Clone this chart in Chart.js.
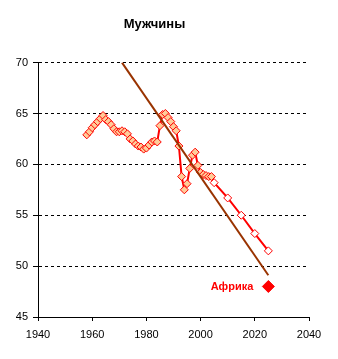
<!DOCTYPE html>
<html lang="ru">
<head>
<meta charset="UTF-8">
<title>Мужчины</title>
<script src="https://cdn.jsdelivr.net/npm/chart.js"></script>
<style>
  body { margin: 0; padding: 0; background: #ffffff; }
  .wrap { width: 338px; height: 359px; }
</style>
</head>
<body>
<div class="wrap"><canvas id="lifeChart" width="338" height="359"></canvas></div>
<script>
// годы и значения (наблюдения)
const years = [1958, 1959, 1960, 1961, 1962, 1963, 1964, 1965, 1966, 1967,
  1968, 1969, 1970, 1971, 1972, 1973, 1974, 1975, 1976, 1977,
  1978, 1979, 1980, 1981, 1982, 1983, 1984, 1985, 1986, 1987,
  1988, 1989, 1990, 1991, 1992, 1993, 1994, 1995, 1996, 1997,
  1998, 1999, 2000, 2001, 2002, 2003, 2004];
const values = [62.9, 63.2, 63.6, 63.9, 64.2, 64.5, 64.8, 64.4, 64.2, 63.9,
  63.5, 63.2, 63.2, 63.3, 63.2, 63.0, 62.5, 62.3, 62.0, 61.8,
  61.7, 61.5, 61.6, 61.9, 62.2, 62.3, 62.2, 63.8, 64.9, 65.0,
  64.6, 64.2, 63.7, 63.3, 61.8, 58.8, 57.5, 58.1, 59.6, 60.9,
  61.2, 59.9, 59.2, 59.0, 58.9, 58.8, 58.8];

// прогноз
const forecastYears = [2005, 2010, 2015, 2020, 2025];
const forecastValues = [58.2, 56.7, 55.0, 53.2, 51.5];

// линейный тренд
const trendYears = [1971, 2025];
const trendValues = [70, 49.1];

// Африка
const africaYear = [2025];
const africaValue = [48];
const africaLabel = 'Африка';

const xTicks = [1940, 1960, 1980, 2000, 2020, 2040];
const yTicks = [45, 50, 55, 60, 65, 70];

const mainPoints = years.map((y, i) => ({ x: y, y: values[i] }))
  .concat(forecastYears.map((y, i) => ({ x: y, y: forecastValues[i] })));
const pointFill = years.map(() => '#FFCC99').concat(forecastYears.map(() => '#FFFFFF'));

const africaText = {
  id: 'africaText',
  afterDatasetsDraw(chart) {
    const meta = chart.getDatasetMeta(2);
    const pt = meta.data[0];
    const ctx = chart.ctx;
    ctx.save();
    ctx.font = 'bold 11px "Liberation Sans", Arial, sans-serif';
    ctx.fillStyle = '#FF0000';
    ctx.textAlign = 'right';
    ctx.textBaseline = 'middle';
    ctx.fillText(africaLabel, pt.x - 15, pt.y);
    ctx.restore();
  }
};

const ctx = document.getElementById('lifeChart').getContext('2d');
new Chart(ctx, {
  type: 'line',
  data: {
    datasets: [
      {
        label: 'тренд',
        data: trendYears.map((y, i) => ({ x: y, y: trendValues[i] })),
        borderColor: '#993300',
        borderWidth: 2,
        pointRadius: 0,
        tension: 0
      },
      {
        label: 'Мужчины',
        data: mainPoints,
        borderColor: '#FF0000',
        borderWidth: 2,
        pointStyle: 'rectRot',
        pointRadius: 4,
        pointBorderWidth: 1,
        pointBorderColor: '#FF0000',
        pointBackgroundColor: pointFill,
        tension: 0
      },
      {
        label: africaLabel,
        data: africaYear.map((y, i) => ({ x: y, y: africaValue[i] })),
        showLine: false,
        pointStyle: 'rectRot',
        pointRadius: 6,
        pointBorderWidth: 1,
        pointBorderColor: '#FF0000',
        pointBackgroundColor: '#FF0000'
      }
    ]
  },
  options: {
    responsive: false,
    animation: false,
    layout: { padding: { left: 0, right: 29, top: 0, bottom: 0 } },
    plugins: {
      legend: { display: false },
      tooltip: { enabled: false },
      title: {
        display: true,
        text: 'Мужчины',
        color: '#000000',
        font: { family: '"Liberation Sans", Arial, sans-serif', size: 13, weight: 'bold' },
        padding: { top: 17, bottom: 30 }
      }
    },
    scales: {
      x: {
        type: 'linear',
        min: 1940,
        max: 2040,
        afterBuildTicks: (scale) => { scale.ticks = xTicks.map(v => ({ value: v })); },
        afterFit: (scale) => { scale.height = 42; },
        ticks: {
          color: '#000000',
          font: { family: '"Liberation Sans", Arial, sans-serif', size: 11 },
          padding: 7,
          maxRotation: 0,
          callback: (v) => String(v)
        },
        grid: { drawOnChartArea: false, drawTicks: true, tickLength: 4, color: '#000000' },
        border: { display: true, color: '#000000', width: 1 }
      },
      y: {
        min: 45,
        max: 70,
        afterBuildTicks: (scale) => { scale.ticks = yTicks.map(v => ({ value: v })); },
        afterFit: (scale) => { scale.width = 38; },
        ticks: {
          color: '#000000',
          font: { family: '"Liberation Sans", Arial, sans-serif', size: 11 },
          padding: 5,
          callback: (v) => String(v)
        },
        grid: {
          color: '#000000',
          lineWidth: 1,
          tickLength: 5,
          tickBorderDash: [10, 0]
        },
        border: { display: true, color: '#000000', width: 1, dash: [3, 3] }
      }
    }
  },
  plugins: [africaText]
});
</script>
</body>
</html>
